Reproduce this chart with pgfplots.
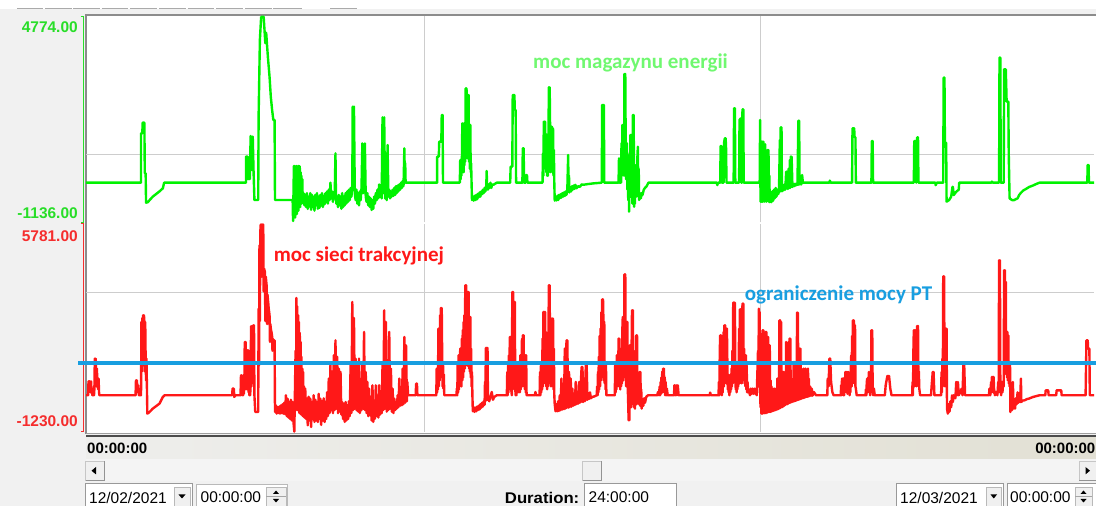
\documentclass[border=0pt]{standalone}
\usepackage{pgfplots}
\pgfplotsset{compat=1.18}
\usepackage{fontspec}
\setmainfont{Liberation Sans}
\newfontfamily\calfont{Carlito}
\definecolor{bgc}{RGB}{241,241,241}
\definecolor{tabc}{RGB}{170,170,170}
\definecolor{gridc}{RGB}{205,205,205}
\definecolor{framec}{RGB}{140,140,140}
\definecolor{sgreen}{RGB}{0,242,0}
\definecolor{lgreen}{RGB}{112,248,112}
\definecolor{sred}{RGB}{255,24,24}
\definecolor{sblue}{RGB}{24,158,224}
\definecolor{agreen}{RGB}{40,222,40}
\definecolor{ared}{RGB}{245,45,45}
\definecolor{tba}{RGB}{238,238,236}
\definecolor{tbb}{RGB}{226,224,212}
\definecolor{scrc}{RGB}{244,244,244}
\definecolor{btnc}{RGB}{240,240,240}
\begin{document}
\begin{tikzpicture}[x=1pt,y=1pt]
\begin{scope}[yshift=506pt,yscale=-1]
 \fill[bgc] (0,0) rectangle (1096,506);
 \fill[white] (0,0) rectangle (1096,9.5);
 \foreach \a/\b in {17/43,45/71.7,73/100,101.7/128,130/156.7,159/186,187.7/214,216/242.7,245/271.7,273/301.7,330/356.7}
   \draw[tabc,line width=1pt] (\a,9) -- (\b,9);
 \fill[white] (86,15) rectangle (1096,434);
 \draw[framec,line width=2pt] (86,434) -- (86,15) -- (1096,15);
 \draw[agreen,line width=1pt] (80.5,16.2) -- (83,16.2) -- (83,222.3) -- (80.5,222.3);
 \draw[ared,line width=1pt] (80.5,223.7) -- (83,223.7) -- (83,431.8) -- (80.5,431.8);
\end{scope}

% ---------------- green panel: moc magazynu energii
\begin{axis}[at={(86pt,283.7pt)},anchor=south west,scale only axis,
  width=1008pt,height=206.1pt,xmin=0,xmax=24,ymin=-1136,ymax=4774,
  axis line style={draw=none},major tick length=0pt,
  xtick={8.05,16.05},ytick={795},xticklabels={},yticklabels={},
  grid=major,grid style={gridc,line width=1pt},clip=false]
\addplot[sgreen,line width=2.4pt,line join=round] coordinates {
(0,0)(1.31,0)(1.31,1415)(1.34,1415)(1.35,1721)(1.39,1721)(1.40,270)(1.42,270)(1.43,-574)(1.47,-560)(1.59,-400)(1.75,-250)(1.83,-160)(1.86,0)
(3.81,0)(3.81,746)(3.85,746)(3.86,100)(3.88,600)(3.90,100)(3.92,1338)(3.95,363)(3.97,1320)(3.99,300)(4.01,-497)(4.10,-497)(4.11,1912)(4.14,4092)(4.17,4755)(4.23,4755)(4.25,4380)(4.27,4000)(4.29,4300)(4.33,3614)(4.37,3040)(4.40,2466)(4.43,2100)(4.46,1797)(4.49,1797)(4.50,-497)
(4.92,-497)(4.93,-1100)(4.94,-300)(4.95,478)(4.96,-800)(4.97,478)(4.98,-1000)(4.99,300)(5.00,-700)(5.01,478)(5.02,-900)(5.03,400)(5.04,-600)(5.05,478)(5.06,-800)(5.07,478)(5.08,-600)(5.09,470)(5.10,-700)(5.11,300)(5.12,-500)(5.13,200)(5.14,-600)(5.15,100)(5.16,-500)
(5.18,-300)(5.20,-650)(5.22,-350)(5.24,-700)(5.26,-300)(5.28,-750)(5.30,-400)(5.32,-680)(5.34,-300)(5.36,-780)(5.38,-350)(5.40,-700)(5.42,-400)(5.44,-800)(5.46,-350)(5.48,-650)(5.50,-300)(5.52,-750)(5.54,-400)(5.56,-720)(5.58,-350)(5.60,-650)(5.62,-300)(5.64,-700)(5.66,-380)(5.68,-620)(5.70,-300)(5.72,-560)(5.74,-250)(5.76,-600)(5.78,-200)(5.80,-500)(5.82,0)(5.84,-450)(5.86,-250)(5.88,-550)(5.90,-300)(5.92,-450)(5.94,841)(5.95,-300)(5.96,-600)(5.98,-400)(6.00,-700)(6.02,-350)(6.04,-650)(6.06,-400)(6.08,-750)(6.10,-300)(6.12,-700)(6.14,-400)(6.16,-650)(6.18,-300)(6.20,-600)(6.22,-250)(6.24,-550)(6.26,-200)(6.28,-500)(6.30,-150)(6.32,-400)(6.34,-100)(6.35,2180)(6.37,-200)(6.38,2180)(6.40,-300)(6.42,-500)(6.44,-200)(6.46,-600)(6.48,-300)(6.50,-650)(6.52,-250)(6.54,-500)(6.56,-150)(6.58,1128)(6.60,-300)(6.62,-100)(6.64,1128)(6.66,-400)(6.68,-550)(6.70,-300)(6.72,-650)(6.74,-400)(6.76,-700)(6.78,-450)(6.80,-784)(6.82,-500)(6.84,-750)(6.86,-400)(6.88,-600)(6.90,-300)(6.92,-500)(6.94,-200)(6.96,-450)(6.98,-50)(7.00,-400)(7.02,-200)(7.04,-450)(7.06,1874)(7.08,-300)(7.10,1874)(7.12,-450)(7.14,-250)(7.16,-500)(7.18,1080)(7.20,-400)(7.22,-200)(7.24,-450)(7.26,-250)(7.28,-400)(7.30,-200)(7.32,-380)(7.34,-150)(7.36,-350)(7.38,-100)(7.40,-300)(7.42,-80)(7.44,-250)(7.46,-50)(7.48,-200)(7.50,0)(7.52,-150)(7.54,50)(7.56,-100)(7.58,985)(7.59,200)(7.60,560)(7.61,0)
(8.36,0)(8.36,746)(8.40,746)(8.41,1176)(8.46,1176)(8.47,1941)(8.49,1941)(8.50,0)
(8.90,0)(8.91,650)(8.92,100)(8.93,650)(8.94,200)(8.95,650)(8.96,1702)(8.97,400)(8.98,1000)(8.99,300)(9.00,1702)(9.01,500)(9.02,1200)(9.03,600)(9.04,2705)(9.05,800)(9.06,2705)(9.07,2200)(9.08,700)(9.09,2514)(9.10,900)(9.11,2514)(9.12,600)(9.13,1654)(9.14,400)(9.15,1654)(9.16,300)(9.17,555)(9.18,0)(9.19,-497)(9.21,-400)(9.23,-516)(9.25,-380)(9.27,-500)(9.29,-350)(9.31,-480)(9.33,-320)(9.35,-420)(9.37,-280)(9.39,-400)(9.41,-250)(9.43,-330)(9.45,-200)(9.47,-300)(9.49,-150)(9.51,-250)(9.53,-100)(9.54,335)(9.55,-150)(9.57,-200)(9.59,-50)(9.61,-150)(9.63,0)(9.65,-150)(9.67,-50)(9.70,-60)(9.74,-30)(9.78,0)
(10.10,0)(10.11,459)(10.15,459)(10.16,2514)(10.20,2514)(10.21,2085)(10.23,2085)(10.24,0)
(10.39,0)(10.40,985)(10.42,985)(10.43,0)(10.47,0)(10.48,220)(10.50,220)(10.51,0)
(10.87,0)(10.88,841)(10.89,200)(10.90,1750)(10.91,400)(10.92,1750)(10.93,1750)(10.94,500)(10.95,1377)(10.96,300)(10.97,1377)(10.98,200)(10.99,937)(11.00,200)(11.01,937)(11.02,2734)(11.03,500)(11.04,2734)(11.05,1606)(11.06,300)(11.07,1606)(11.08,400)(11.09,1606)(11.10,1558)(11.11,300)(11.12,1558)(11.13,200)(11.14,937)(11.15,0)(11.16,-516)(11.18,-400)(11.20,-510)(11.22,-380)(11.24,-500)(11.26,-350)(11.28,-450)(11.30,-330)(11.32,-430)(11.34,-300)(11.36,-400)(11.38,-280)(11.40,-380)(11.42,-250)(11.44,-350)(11.46,-200)(11.48,793)(11.49,-250)(11.50,200)(11.51,-280)(11.53,-150)(11.55,-250)(11.57,-100)(11.59,-200)(11.61,-80)(11.63,-180)(11.65,-60)(11.68,-160)(11.72,-100)(11.76,-120)(11.80,-50)(11.84,-60)(11.95,-40)(12.08,-20)(12.28,0)
(12.29,2227)(12.33,2227)(12.34,0)
(12.68,0)(12.69,698)(12.70,0)
(12.74,0)(12.75,1128)(12.76,200)(12.77,1654)(12.78,300)(12.79,1654)(12.80,746)(12.81,200)(12.82,3117)(12.83,400)(12.84,3117)(12.85,1128)(12.86,100)(12.87,1128)(12.88,1128)(12.89,-200)(12.90,800)(12.91,-500)(12.92,400)(12.93,-832)(12.94,600)(12.95,-300)(12.96,1367)(12.97,-400)(12.98,1367)(12.99,-400)(13.00,800)(13.01,-600)(13.02,1941)(13.03,-500)(13.04,1941)(13.05,-690)(13.06,300)(13.07,-600)(13.08,500)(13.09,-20)(13.10,-400)(13.11,300)(13.12,-300)(13.13,800)(13.14,1033)(13.15,-400)(13.16,400)(13.17,-497)(13.19,-300)(13.21,-450)(13.23,-300)(13.25,-355)(13.28,-200)(13.31,-150)(13.35,-100)(13.39,0)
(15.02,0)(15.03,-70)(15.05,0)
(15.10,0)(15.11,1052)(15.13,1052)(15.14,0)(15.18,0)(15.19,1128)(15.21,1272)(15.23,1272)(15.24,985)(15.25,0)
(15.42,0)(15.43,2132)(15.45,2132)(15.46,0)(15.55,0)(15.56,1798)(15.59,1845)(15.60,0)(15.62,0)(15.63,2104)(15.65,2104)(15.66,0)
(16.04,0)(16.05,1797)(16.06,-545)(16.07,800)(16.08,-545)(16.09,1176)(16.10,-545)(16.11,1176)(16.12,-545)(16.13,1176)(16.14,-500)(16.15,600)(16.16,-545)(16.17,1100)(16.18,-500)(16.19,937)(16.20,-545)(16.21,500)(16.22,-520)(16.23,937)(16.24,-500)(16.25,937)(16.26,-550)(16.27,200)(16.28,-560)(16.30,-300)(16.32,-560)(16.34,-250)(16.36,-520)(16.38,-200)(16.40,-450)(16.42,-150)(16.44,-400)(16.46,-200)(16.48,-330)(16.50,-250)(16.52,1224)(16.53,-250)(16.54,1587)(16.55,-200)(16.56,1587)(16.57,-250)(16.59,-100)(16.61,-220)(16.63,-50)(16.65,-200)(16.67,315)(16.68,-150)(16.69,315)(16.71,-180)(16.73,400)(16.75,-150)(16.76,650)(16.77,-150)(16.78,746)(16.79,-100)(16.80,746)(16.82,-120)(16.84,-50)(16.86,-100)(16.88,-30)(16.90,-80)(16.92,-30)(16.94,-60)(16.96,1778)(16.97,-60)(16.98,1778)(16.99,-50)(17.01,-20)(17.03,-50)(17.05,220)(17.07,0)
(17.70,0)(17.71,60)(17.73,0)
(18.24,0)(18.25,1558)(18.29,1558)(18.30,1300)(18.32,1300)(18.33,0)
(18.70,0)(18.71,1195)(18.73,1195)(18.74,0)
(19.71,0)(19.72,1195)(19.76,1195)(19.77,0)(19.79,1300)(19.81,1300)(19.82,0)
(20.22,0)(20.23,-70)(20.26,0)
(20.41,0)(20.42,3012)(20.44,3012)(20.45,1147)(20.48,1147)(20.49,-545)(20.55,-497)(20.60,-400)(20.63,-120)(20.64,-120)(20.66,-355)(20.72,-260)(20.78,-200)(20.79,0)
(21.56,0)(21.57,30)(21.59,0)
(21.74,0)(21.75,3585)(21.77,3585)(21.78,0)(21.85,0)(21.86,3251)(21.90,3251)(21.92,2323)(21.96,2323)(21.97,841)(21.99,-450)(22.05,-500)(22.10,-500)(22.14,-470)(22.18,-450)(22.22,-350)(22.26,-290)(22.32,-220)(22.38,-180)(22.46,-120)(22.54,-85)(22.62,-40)(22.70,0)
(23.84,0)(23.85,507)(23.87,507)(23.88,0)(24,0)
};
\end{axis}

% ---------------- red panel: moc sieci trakcyjnej
\begin{axis}[at={(86pt,74.2pt)},anchor=south west,scale only axis,
  width=1008pt,height=208.1pt,xmin=0,xmax=24,ymin=-1230,ymax=5781,
  axis line style={draw=none},major tick length=0pt,
  xtick={8.05,16.05},ytick={3447},xticklabels={},yticklabels={},
  grid=major,grid style={gridc,line width=1pt},clip=false]
\addplot[sred,line width=2.4pt,line join=round] coordinates {
(0,0)(0.05,0)(0.06,472)(0.07,100)(0.08,472)(0.09,200)(0.10,340)(0.11,100)(0.12,472)(0.13,200)(0.14,220)(0.15,0)(0.16,220)(0.17,0)(0.18,220)(0.19,0)(0.20,220)(0.21,1235)(0.22,300)(0.23,1235)(0.24,898)(0.25,300)(0.26,898)(0.27,400)(0.28,560)(0.29,200)(0.30,560)(0.31,100)(0.32,0)
(1.18,0)(1.19,505)(1.20,200)(1.21,505)(1.22,337)(1.23,100)(1.24,337)(1.26,0)(1.31,0)(1.32,2471)(1.33,800)(1.34,2600)(1.35,1000)(1.36,2695)(1.37,1200)(1.38,2695)(1.39,2471)(1.40,800)(1.41,2471)(1.42,1235)(1.43,500)(1.44,1235)(1.45,337)(1.46,-618)(1.50,-580)(1.59,-450)(1.75,-280)(1.83,-56)(1.87,0)
(3.48,0)(3.49,225)(3.52,225)(3.53,-56)(3.56,0)
(3.68,0)(3.69,674)(3.70,100)(3.71,674)(3.72,0)(3.73,337)(3.74,0)(3.75,337)(3.76,50)(3.77,337)(3.78,1797)(3.79,200)(3.80,1797)(3.81,500)(3.82,1348)(3.83,200)(3.84,1516)(3.85,300)(3.86,1516)(3.87,100)(3.88,562)(3.89,0)(3.90,562)(3.91,0)(3.92,562)(3.93,2325)(3.94,300)(3.95,2325)(3.96,500)(3.97,1348)(3.98,2358)(3.99,400)(4.00,2358)(4.01,0)(4.03,-562)(4.10,-562)
(4.11,2920)(4.12,1000)(4.13,5054)(4.14,2500)(4.15,5500)(4.16,5750)(4.18,5750)(4.19,4000)(4.20,5750)(4.22,5750)(4.23,3500)(4.24,4267)(4.26,4150)(4.27,2500)(4.28,4000)(4.30,3706)(4.31,2400)(4.32,3400)(4.34,3100)(4.35,2920)(4.37,2700)(4.38,1800)(4.39,2400)(4.40,2246)(4.42,2100)(4.43,2000)(4.44,1500)(4.45,1900)(4.46,1853)(4.49,1853)
(4.50,-562)(4.52,-337)(4.54,-618)(4.56,-400)(4.58,-600)(4.60,-380)(4.62,-618)(4.64,-340)(4.66,-600)(4.68,-300)(4.70,-620)(4.72,-250)(4.74,-640)(4.76,0)(4.78,-700)(4.80,-112)(4.82,-750)(4.84,-225)(4.86,-800)(4.88,-150)(4.90,-850)(4.92,-225)(4.94,-900)(4.96,-1225)(4.97,-300)(4.99,1500)(5.00,-500)(5.01,3279)(5.02,-300)(5.03,3000)(5.04,-500)(5.05,2700)(5.06,-450)(5.07,2471)(5.08,-600)(5.09,2100)(5.10,-500)(5.11,1800)(5.12,-650)(5.13,1300)(5.14,-500)(5.15,900)(5.16,-700)(5.17,786)(5.18,-600)(5.19,300)(5.20,-750)(5.22,225)(5.24,-800)(5.26,-112)(5.28,-1011)(5.30,-50)(5.32,-850)(5.34,-112)(5.36,-1067)(5.38,-225)(5.40,-800)(5.42,0)(5.44,-900)(5.46,-150)(5.48,-850)(5.50,-225)(5.52,-898)(5.54,50)(5.56,-800)(5.58,-112)(5.60,-1000)(5.62,-200)(5.64,-850)(5.66,-100)(5.68,-900)(5.70,-225)(5.72,-800)(5.74,100)(5.76,-700)(5.78,562)(5.80,-600)(5.82,1011)(5.84,-500)(5.86,800)(5.88,-600)(5.90,1348)(5.92,-500)(5.94,1853)(5.96,-450)(5.98,1300)(6.00,-600)(6.02,898)(6.04,-550)(6.06,786)(6.08,-650)(6.10,-225)(6.12,-800)(6.14,-280)(6.16,-898)(6.18,-225)(6.20,-850)(6.22,-337)(6.24,-800)(6.26,-200)(6.28,-700)(6.30,1011)(6.32,-600)(6.34,3144)(6.36,-500)(6.38,2600)(6.40,-450)(6.42,1235)(6.44,-500)(6.46,1011)(6.48,-550)(6.50,1235)(6.52,-600)(6.54,450)(6.56,-500)(6.58,1123)(6.60,-450)(6.62,2134)(6.64,-500)(6.66,786)(6.68,-600)(6.70,450)(6.72,-700)(6.74,225)(6.76,-674)(6.78,-112)(6.80,-850)(6.82,337)(6.84,-898)(6.86,-225)(6.88,-786)(6.90,337)(6.92,-700)(6.94,-112)(6.96,-750)(6.98,337)(7.00,-650)(7.02,-100)(7.04,-600)(7.06,1011)(7.08,-500)(7.10,2864)(7.12,-450)(7.14,2471)(7.16,-550)(7.18,1123)(7.20,-500)(7.22,2134)(7.24,-450)(7.26,898)(7.28,-550)(7.30,225)(7.32,-600)(7.34,-112)(7.36,-500)(7.38,-225)(7.40,-450)(7.42,0)(7.44,-400)(7.46,562)(7.48,-350)(7.50,0)(7.52,-337)(7.54,898)(7.56,-300)(7.58,1965)(7.60,-250)(7.62,1685)(7.64,-200)(7.65,450)(7.67,0)
(7.85,0)(7.86,393)(7.88,393)(7.89,0)
(8.34,0)(8.35,898)(8.36,100)(8.37,898)(8.38,200)(8.39,2246)(8.40,300)(8.41,2246)(8.42,500)(8.43,2700)(8.44,600)(8.45,2942)(8.46,800)(8.47,2942)(8.48,1348)(8.49,300)(8.50,1100)(8.51,225)(8.52,700)(8.53,0)(8.55,0)
(8.82,0)(8.83,225)(8.84,0)(8.85,1123)(8.86,100)(8.87,1348)(8.88,200)(8.89,1348)(8.90,300)(8.91,1572)(8.92,400)(8.93,1572)(8.94,300)(8.95,1909)(8.96,500)(8.97,2200)(8.98,600)(8.99,2471)(9.00,800)(9.01,2700)(9.02,900)(9.03,3706)(9.04,1000)(9.05,3706)(9.06,1200)(9.07,3032)(9.08,1000)(9.09,3481)(9.10,1100)(9.11,3481)(9.12,900)(9.13,2639)(9.14,800)(9.15,2639)(9.16,600)(9.17,1572)(9.18,300)(9.19,786)(9.20,0)(9.21,-539)(9.23,-400)(9.25,-560)(9.27,-420)(9.29,-540)(9.31,-380)(9.33,-500)(9.35,-350)(9.37,-480)(9.39,-300)(9.41,-420)(9.43,-250)(9.45,-380)(9.47,-200)(9.49,-320)(9.50,450)(9.51,-200)(9.52,1595)(9.53,-100)(9.54,1595)(9.55,-150)(9.56,1595)(9.57,-112)(9.60,-200)(9.63,-50)(9.66,112)(9.69,-150)(9.72,-56)(9.78,0)
(10.02,0)(10.03,786)(10.04,0)(10.05,1000)(10.06,100)(10.07,1348)(10.08,200)(10.09,1965)(10.10,300)(10.11,1965)(10.12,842)(10.13,100)(10.14,0)(10.15,3481)(10.16,200)(10.17,3481)(10.18,500)(10.19,3144)(10.20,800)(10.21,3144)(10.22,225)(10.23,0)(10.24,700)(10.25,0)(10.26,1011)(10.27,100)(10.28,1011)(10.29,100)(10.30,1123)(10.31,200)(10.32,1123)(10.33,100)(10.34,1348)(10.35,200)(10.36,1348)(10.37,300)(10.38,1900)(10.39,300)(10.40,2021)(10.41,400)(10.42,2021)(10.43,300)(10.44,1348)(10.45,200)(10.46,1348)(10.47,100)(10.48,1348)(10.49,0)(10.50,0)
(10.69,0)(10.70,112)(10.72,0)
(10.80,0)(10.81,786)(10.82,0)(10.83,1000)(10.84,100)(10.85,1123)(10.86,200)(10.87,1909)(10.88,300)(10.89,2808)(10.90,400)(10.91,2808)(10.92,500)(10.93,2808)(10.94,400)(10.95,2134)(10.96,300)(10.97,1572)(10.98,200)(10.99,1572)(11.00,300)(11.01,1572)(11.02,3706)(11.03,500)(11.04,3706)(11.05,400)(11.06,2471)(11.07,300)(11.08,2583)(11.09,400)(11.10,2583)(11.11,300)(11.12,2583)(11.13,200)(11.14,1572)(11.15,0)(11.16,-300)(11.18,-539)(11.20,-300)(11.22,-539)(11.24,-200)(11.26,-530)(11.28,0)(11.30,-505)(11.32,562)(11.34,-480)(11.36,-200)(11.38,-470)(11.40,1572)(11.42,-450)(11.44,1853)(11.45,-300)(11.46,1853)(11.48,-420)(11.50,786)(11.52,-400)(11.54,562)(11.56,-380)(11.58,225)(11.60,-350)(11.62,-100)(11.64,-330)(11.66,450)(11.68,-300)(11.70,-100)(11.72,-280)(11.74,450)(11.76,-250)(11.78,337)(11.80,955)(11.81,-220)(11.82,955)(11.84,-225)(11.86,562)(11.88,-200)(11.90,1011)(11.91,-150)(11.92,1011)(11.94,-150)(11.96,-56)(11.98,-120)(12.00,100)(12.02,-100)(12.05,-56)(12.10,-40)(12.16,0)
(12.17,300)(12.18,0)(12.19,786)(12.20,100)(12.21,1300)(12.22,200)(12.23,2000)(12.24,300)(12.25,2246)(12.26,500)(12.27,2800)(12.28,600)(12.29,3234)(12.30,800)(12.31,3234)(12.32,2471)(12.33,500)(12.34,2471)(12.35,400)(12.36,1011)(12.37,200)(12.38,1011)(12.39,0)(12.40,0)
(12.59,0)(12.60,1011)(12.61,100)(12.62,1000)(12.63,200)(12.64,1348)(12.65,300)(12.66,1348)(12.67,400)(12.68,1909)(12.69,300)(12.70,1909)(12.71,786)(12.72,200)(12.73,1200)(12.74,300)(12.75,1572)(12.76,400)(12.77,2200)(12.78,2639)(12.79,500)(12.80,2639)(12.81,600)(12.82,4077)(12.83,700)(12.84,4077)(12.85,1572)(12.86,300)(12.87,2471)(12.88,400)(12.89,2471)(12.90,225)(12.91,-300)(12.92,-842)(12.93,500)(12.94,-842)(12.95,1685)(12.96,-300)(12.97,450)(12.98,-400)(12.99,1500)(13.00,2864)(13.01,-200)(13.02,2864)(13.03,-300)(13.04,898)(13.05,-400)(13.06,600)(13.07,-449)(13.08,1500)(13.09,-300)(13.10,2021)(13.11,-300)(13.12,2021)(13.13,-200)(13.14,500)(13.15,-225)(13.16,600)(13.17,-300)(13.18,786)(13.19,-350)(13.20,786)(13.21,-300)(13.22,200)(13.23,-449)(13.25,-200)(13.27,-350)(13.29,-100)(13.31,-250)(13.34,-50)(13.38,0)
(13.60,0)(13.62,112)(13.64,0)(13.66,300)(13.67,0)(13.68,450)(13.69,50)(13.70,600)(13.71,100)(13.72,800)(13.73,100)(13.74,898)(13.75,200)(13.76,898)(13.77,100)(13.78,600)(13.79,0)(13.80,450)(13.82,0)(13.83,225)(13.85,0)
(14.00,0)(14.01,337)(14.03,0)(14.05,337)(14.07,0)(14.09,337)(14.11,0)
(14.85,0)(14.86,90)(14.88,0)
(15.06,0)(15.07,450)(15.08,0)(15.09,1500)(15.10,2021)(15.11,300)(15.12,2021)(15.13,337)(15.14,0)(15.15,800)(15.16,100)(15.17,1500)(15.18,2134)(15.19,300)(15.20,2358)(15.21,400)(15.22,2358)(15.23,500)(15.24,2246)(15.25,400)(15.26,2246)(15.27,1123)(15.28,200)(15.29,700)(15.30,100)(15.31,450)(15.32,0)(15.33,500)(15.34,100)(15.35,700)(15.36,200)(15.37,898)(15.38,300)(15.39,1500)(15.40,400)(15.41,3122)(15.42,500)(15.43,3122)(15.44,600)(15.45,3122)(15.46,786)(15.47,200)(15.48,450)(15.49,100)(15.50,450)(15.51,200)(15.52,1011)(15.53,300)(15.54,1011)(15.55,2246)(15.56,400)(15.57,2897)(15.58,500)(15.59,2897)(15.60,1123)(15.61,400)(15.62,1123)(15.63,3088)(15.64,600)(15.65,3088)(15.66,500)(15.67,1572)(15.68,400)(15.69,1348)(15.70,300)(15.71,1348)(15.72,200)(15.73,1000)(15.74,100)(15.75,450)(15.77,100)(15.79,112)(15.81,0)(15.83,225)(15.85,50)(15.87,225)(15.89,50)(15.91,225)(15.93,50)(15.95,225)(15.97,0)
(16.00,1500)(16.01,300)(16.02,2920)(16.03,500)(16.04,2808)(16.05,225)(16.06,-400)(16.07,1500)(16.08,-618)(16.09,1200)(16.10,-618)(16.11,2190)(16.12,-600)(16.13,2190)(16.14,-600)(16.15,1500)(16.16,-600)(16.17,1000)(16.18,2134)(16.19,-600)(16.20,2134)(16.21,-580)(16.22,1500)(16.23,-580)(16.24,1965)(16.25,-560)(16.26,1685)(16.27,-560)(16.28,1685)(16.29,-562)(16.30,500)(16.31,-550)(16.32,300)(16.33,-540)(16.34,-100)(16.35,-530)(16.36,225)(16.37,-520)(16.38,-100)(16.39,-510)(16.40,225)(16.41,-500)(16.42,-200)(16.43,-490)(16.44,200)(16.45,-480)(16.46,562)(16.47,-470)(16.48,400)(16.49,-460)(16.50,-100)(16.51,2527)(16.52,-440)(16.53,2527)(16.54,-420)(16.55,2471)(16.56,-400)(16.57,0)(16.58,-400)(16.59,786)(16.60,-380)(16.61,786)(16.62,-360)(16.63,112)(16.64,-340)(16.65,600)(16.66,-320)(16.67,1797)(16.68,-300)(16.69,449)(16.70,-300)(16.71,1200)(16.72,-280)(16.73,1797)(16.74,-260)(16.75,1909)(16.76,-250)(16.77,1909)(16.78,-240)(16.79,562)(16.80,-230)(16.81,225)(16.82,-220)(16.83,400)(16.84,-210)(16.85,1123)(16.86,-200)(16.87,1123)(16.88,-190)(16.89,500)(16.90,-180)(16.91,-100)(16.92,-170)(16.93,2785)(16.94,-160)(16.95,2785)(16.96,-150)(16.97,449)(16.98,-140)(16.99,1572)(17.00,-130)(17.01,1572)(17.02,-120)(17.03,898)(17.04,-110)(17.05,500)(17.06,-100)(17.07,225)(17.08,-90)(17.09,898)(17.10,-80)(17.11,225)(17.12,-70)(17.13,898)(17.14,-60)(17.15,500)(17.16,-50)(17.17,225)(17.18,-50)(17.19,898)(17.20,-40)(17.21,562)(17.22,-30)(17.24,300)(17.26,-20)(17.28,225)(17.30,-10)(17.33,112)(17.38,0)
(17.65,0)(17.66,562)(17.68,300)(17.70,1235)(17.72,1235)(17.74,449)(17.77,112)(17.80,0)
(17.97,0)(17.98,337)(17.99,0)(18.00,562)(18.01,100)(18.02,562)(18.03,0)(18.04,225)(18.05,0)(18.06,600)(18.07,100)(18.08,786)(18.09,200)(18.10,786)(18.11,100)(18.12,786)(18.13,50)(18.14,700)(18.15,786)(18.16,200)(18.17,225)(18.18,0)(18.19,600)(18.20,100)(18.21,1000)(18.22,1348)(18.23,300)(18.24,2000)(18.25,400)(18.26,2527)(18.27,500)(18.28,2527)(18.29,2358)(18.30,400)(18.31,2358)(18.32,300)(18.33,225)(18.35,0)
(18.56,0)(18.57,200)(18.58,0)(18.59,450)(18.60,562)(18.61,100)(18.62,600)(18.63,200)(18.64,786)(18.65,100)(18.66,225)(18.67,0)(18.68,600)(18.69,100)(18.70,2190)(18.71,200)(18.72,2190)(18.73,225)(18.74,0)(18.76,225)(18.78,0)
(19.02,0)(19.04,337)(19.08,651)(19.12,651)(19.15,225)(19.18,0)
(19.67,0)(19.68,449)(19.69,0)(19.70,1500)(19.71,2190)(19.72,300)(19.73,2190)(19.74,400)(19.75,2190)(19.76,1348)(19.77,300)(19.78,1800)(19.79,2336)(19.80,400)(19.81,2336)(19.82,300)(19.83,800)(19.84,225)(19.86,0)
(20.12,0)(20.13,225)(20.16,786)(20.18,786)(20.20,0)
(20.36,0)(20.37,786)(20.38,100)(20.39,1235)(20.40,300)(20.41,4009)(20.42,500)(20.43,4009)(20.44,1235)(20.45,300)(20.46,1800)(20.47,2246)(20.48,400)(20.49,2246)(20.50,-449)(20.52,-618)(20.54,-300)(20.56,-550)(20.58,-200)(20.60,-400)(20.62,0)(20.64,-225)(20.66,0)(20.70,-100)(20.72,449)(20.74,0)(20.76,449)(20.78,0)(20.85,225)(20.87,0)(20.89,1011)(20.90,200)(20.91,1011)(20.93,0)
(21.50,0)(21.51,225)(21.53,0)(21.55,449)(21.56,100)(21.57,618)(21.58,200)(21.59,618)(21.60,100)(21.61,618)(21.62,225)(21.64,0)(21.67,112)(21.70,0)(21.72,449)(21.73,100)(21.74,4548)(21.75,400)(21.76,4548)(21.77,225)(21.79,0)(21.81,449)(21.82,100)(21.84,449)(21.85,300)(21.86,4211)(21.87,800)(21.88,4211)(21.89,1500)(21.90,3818)(21.91,700)(21.92,2134)(21.93,600)(21.94,2134)(21.95,500)(21.96,2021)(21.97,400)(21.98,1123)(21.99,300)(22.00,1123)(22.01,-562)(22.03,-300)(22.05,-500)(22.07,449)(22.08,-450)(22.10,-200)(22.12,-449)(22.14,-100)(22.16,-300)(22.18,100)(22.20,-250)(22.22,0)(22.24,-230)(22.26,562)(22.27,-225)(22.30,-180)(22.35,-168)(22.40,-130)(22.45,-112)(22.55,-56)(22.70,0)
(22.84,0)(22.85,168)(22.91,168)(22.92,0)(23.10,0)(23.11,168)(23.22,168)(23.23,0)
(23.80,0)(23.82,1853)(23.85,1853)(23.86,1572)(23.89,1572)(23.90,0)(24,0)
};
\addplot[sblue,line width=4pt] coordinates {(-0.19,1100)(24.04,1100)};
\end{axis}

\begin{scope}[yshift=506pt,yscale=-1]
 % value labels
 \node[anchor=east,inner sep=0,font=\fontsize{15.5}{18}\selectfont\bfseries,text=agreen] at (78,27.5) {4774.00};
 \node[anchor=east,inner sep=0,font=\fontsize{15.5}{18}\selectfont\bfseries,text=agreen] at (78,213) {-1136.00};
 \node[anchor=east,inner sep=0,font=\fontsize{15.5}{18}\selectfont\bfseries,text=ared] at (78,236) {5781.00};
 \node[anchor=east,inner sep=0,font=\fontsize{15.5}{18}\selectfont\bfseries,text=ared] at (78,421.5) {-1230.00};
 % series labels
 \node[anchor=base,inner sep=0,font=\calfont\bfseries\fontsize{21}{24}\selectfont,text=lgreen] at (630.5,68.5) {moc magazynu energii};
 \node[anchor=base,inner sep=0,font=\calfont\bfseries\fontsize{21}{24}\selectfont,text=sred] at (358.9,261.5) {moc sieci trakcyjnej};
 \node[anchor=base,inner sep=0,font=\calfont\bfseries\fontsize{21}{24}\selectfont,text=sblue] at (838.5,300.5) {ograniczenie mocy PT};
 % bottom frame
 \draw[gray!75,line width=1pt] (86,433.8) -- (1096,433.8);
 \draw[black!70,line width=1.6pt] (86,436.3) -- (1096,436.3);
 % time bar
 \shade[left color=tba,right color=tbb] (86,437.2) rectangle (1096,458.5);
 \node[anchor=west,inner sep=0,font=\fontsize{15}{18}\selectfont\bfseries] at (87,448.5) {00:00:00};
 \node[anchor=east,inner sep=0,font=\fontsize{15}{18}\selectfont\bfseries] at (1095.5,448.5) {00:00:00};
 % scrollbar
 \fill[scrc] (86,459.5) rectangle (1096,481.5);
 \filldraw[fill=btnc,draw=gray!45] (85.5,461) rectangle (104,480.5);
 \draw[gray!85,line width=1pt] (85.5,480.5) -- (104,480.5) -- (104,461);
 \fill[black] (91.5,470.7) -- (96,467) -- (96,474.4) -- cycle;
 \filldraw[fill=btnc,draw=gray!45] (582.5,461) rectangle (601,480.5);
 \draw[gray!85,line width=1pt] (582.5,480.5) -- (601,480.5) -- (601,461);
 \fill[btnc] (1079,461) rectangle (1096,480.5);
 \draw[gray!45] (1096,461) -- (1079,461) -- (1079,480.5);
 \draw[gray!85,line width=1pt] (1079,480.5) -- (1096,480.5);
 \fill[black] (1090,470.7) -- (1085.5,467) -- (1085.5,474.4) -- cycle;
 % bottom row: start date and time
 \fill[white] (85.5,484) rectangle (192,506);
 \draw[gray!80,line width=1pt] (85.5,506) -- (85.5,484) -- (192,484) -- (192,506);
 \node[anchor=west,inner sep=0,font=\fontsize{15.5}{18}\selectfont] at (89,497.5) {12/02/2021};
 \fill[btnc] (174,487) rectangle (190,506);
 \draw[gray!55] (174,506) -- (174,487) -- (190,487) -- (190,506);
 \fill[black] (178.5,494.5) -- (185.5,494.5) -- (182,498.5) -- cycle;
 \fill[white] (196.5,484) rectangle (287,506);
 \draw[gray!55,line width=0.8pt] (196.5,506) -- (196.5,484) -- (287,484) -- (287,506);
 \node[anchor=west,inner sep=0,font=\fontsize{15.5}{18}\selectfont] at (200.5,497.5) {00:00:00};
 \fill[btnc] (266,487) rectangle (286,506);
 \draw[gray!55] (266,506) -- (266,487) -- (286,487) -- (286,506);
 \draw[gray!70] (266,496.5) -- (286,496.5);
 \fill[black] (273,494) -- (279,494) -- (276,490.5) -- cycle;
 \fill[black] (273,499) -- (279,499) -- (276,502.5) -- cycle;
 % duration
 \node[anchor=east,inner sep=0,font=\fontsize{15.5}{18}\selectfont\bfseries] at (579.5,497.5) {\scalebox{1.08}[1]{Duration:}};
 \fill[white] (584,484) rectangle (676,506);
 \draw[gray!80,line width=1pt] (584,506) -- (584,484) -- (676,484) -- (676,506);
 \node[anchor=west,inner sep=0,font=\fontsize{15.5}{18}\selectfont] at (588.5,497.5) {24:00:00};
 % end date and time
 \fill[white] (896,484) rectangle (1003,506);
 \draw[gray!80,line width=1pt] (896,506) -- (896,484) -- (1003,484) -- (1003,506);
 \node[anchor=west,inner sep=0,font=\fontsize{15.5}{18}\selectfont] at (900,497.5) {12/03/2021};
 \fill[btnc] (986.5,487) rectangle (1001,506);
 \draw[gray!55] (986.5,506) -- (986.5,487) -- (1001,487) -- (1001,506);
 \fill[black] (990.5,494.5) -- (997,494.5) -- (993.75,498.5) -- cycle;
 \fill[white] (1007,484) rectangle (1096,506);
 \draw[gray!80,line width=1pt] (1007,506) -- (1007,484) -- (1096,484);
 \node[anchor=west,inner sep=0,font=\fontsize{15.5}{18}\selectfont] at (1010,497.5) {00:00:00};
 \fill[btnc] (1075,487) rectangle (1092,506);
 \draw[gray!55] (1075,506) -- (1075,487) -- (1092,487) -- (1092,506);
 \draw[gray!70] (1075,496.5) -- (1092,496.5);
 \fill[black] (1080.5,494) -- (1086.5,494) -- (1083.5,490.5) -- cycle;
 \fill[black] (1080.5,499) -- (1086.5,499) -- (1083.5,502.5) -- cycle;
\end{scope}
\pgfresetboundingbox
\path[use as bounding box] (0,0) rectangle (1096,506);
\end{tikzpicture}
\end{document}
